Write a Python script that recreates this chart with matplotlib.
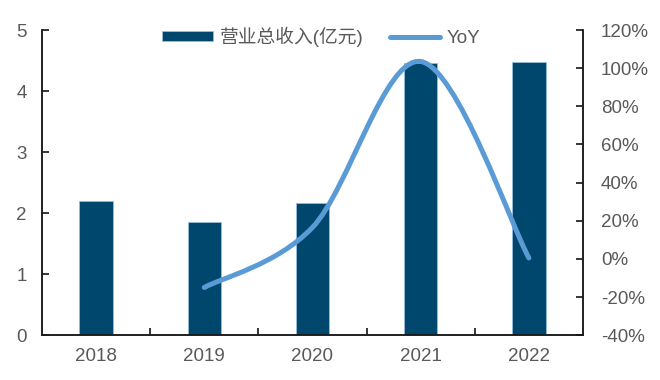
import numpy as np
import matplotlib
matplotlib.use('Agg')
import matplotlib.pyplot as plt
from matplotlib.path import Path
from matplotlib.patches import PathPatch, Patch
from matplotlib.lines import Line2D
import matplotlib.ticker as mticker

plt.rcParams['font.family'] = ['Liberation Sans', 'Noto Sans CJK SC', 'DejaVu Sans']

years = ['2018', '2019', '2020', '2021', '2022']
revenue = [2.20, 1.86, 2.17, 4.46, 4.47]
yoy_years = ['2019', '2020', '2021', '2022']
yoy = [-15.0, 16.5, 103.5, 0.5]

bar_color = '#00476E'
line_color = '#5B9BD5'
txt_color = '#595959'
fs = 13.5

fig = plt.figure(figsize=(6.6, 3.8), dpi=100)
ax = fig.add_axes([0.0636, 0.118, 0.8197, 0.803])
ax2 = ax.twinx()

x = np.arange(len(years))
ax.bar(x, revenue, width=0.31, color=bar_color, edgecolor='#9CC3E0', linewidth=0.5, zorder=2)
ax.set_xlim(-0.5, len(years) - 0.5)
ax.set_ylim(0, 5)
ax.set_xticks(x)
ax.set_xticklabels(years)
ax.set_xticks(np.arange(len(years) - 1) + 0.5, minor=True)
ax.tick_params(axis='x', which='major', length=0, pad=9, labelsize=fs, labelcolor=txt_color)
ax.tick_params(axis='x', which='minor', direction='in', length=5, width=1.1)
ax.tick_params(axis='y', direction='in', length=5, width=1.1, pad=11, labelsize=fs, labelcolor=txt_color)

# smoothed yoy line (catmull-rom style bezier)
xs = np.array([years.index(y) for y in yoy_years], dtype=float)
ys = np.array(yoy, dtype=float)
pts = np.column_stack([xs, ys])
verts = [pts[0]]
codes = [Path.MOVETO]
n = len(pts)
for i in range(n - 1):
    p0 = pts[max(i - 1, 0)]
    p1 = pts[i]
    p2 = pts[i + 1]
    p3 = pts[min(i + 2, n - 1)]
    verts += [p1 + (p2 - p0) / 6, p2 - (p3 - p1) / 6, p2]
    codes += [Path.CURVE4] * 3
ax2.add_patch(PathPatch(Path(verts, codes), fill=False, edgecolor=line_color,
                        linewidth=3.6, capstyle='round', zorder=3))
ax2.set_ylim(-40, 120)
ax2.set_yticks(np.arange(-40, 121, 20))
ax2.yaxis.set_major_formatter(mticker.FuncFormatter(lambda v, p: '%d%%' % v))
ax2.tick_params(axis='y', direction='in', length=5, width=1.1, pad=13, labelsize=fs, labelcolor=txt_color)

for a in (ax, ax2):
    a.spines['top'].set_visible(False)
    for s in ('left', 'right', 'bottom'):
        a.spines[s].set_linewidth(1.1)
        a.spines[s].set_color('#1a1a1a')

handles = [Patch(facecolor=bar_color, edgecolor='#9CC3E0', linewidth=0.5),
           Line2D([0], [0], color=line_color, linewidth=3.6, solid_capstyle='round')]
fig.legend(handles, ['营业总收入(亿元)', 'YoY'], loc='upper center', bbox_to_anchor=(0.487, 0.975),
           ncol=2, frameon=False, fontsize=fs, handlelength=2.7, handleheight=0.5,
           handletextpad=0.35, columnspacing=1.4, labelcolor=txt_color)

fig.savefig('out.png', dpi=100)
